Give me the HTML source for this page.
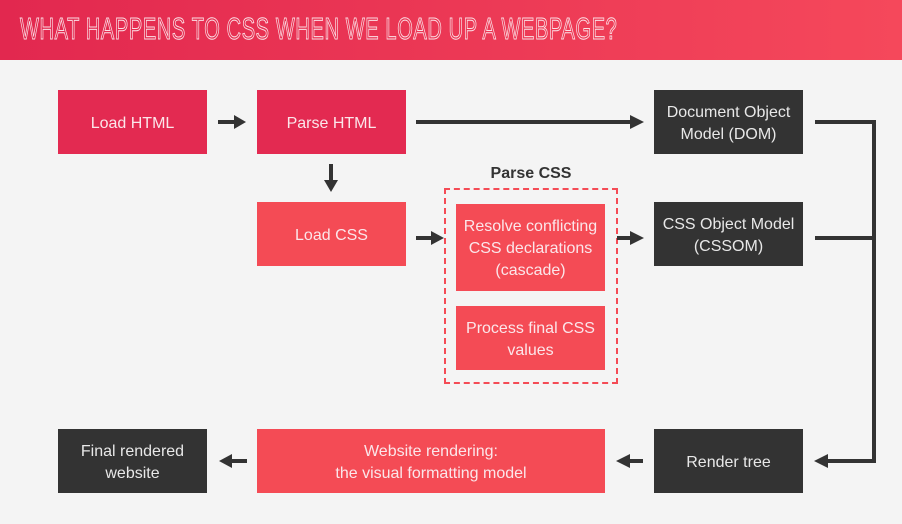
<!DOCTYPE html>
<html><head><meta charset="utf-8"><style>
body{margin:0;width:902px;height:524px;background:#f4f4f4;position:relative;overflow:hidden;font-family:"Liberation Sans",sans-serif}
.hdr{position:absolute;left:0;top:0;width:902px;height:60px;background:linear-gradient(90deg,#e2284f,#f5485b)}
.ttl{position:absolute;left:20px;top:11px;font-family:"Liberation Sans Narrow","Liberation Sans",sans-serif;font-size:31px;letter-spacing:1px;color:transparent;-webkit-text-stroke:1px #fbe0e6;transform:scaleX(0.645);transform-origin:left;white-space:nowrap}
.b{position:absolute;display:flex;align-items:center;justify-content:center;text-align:center;color:#fbe6ea;font-size:16px;line-height:22px;box-sizing:border-box;padding-top:3px}
.c{background:#e32a51}.l{background:#f44b55}.d{background:#333;color:#e8e8e8}
</style></head><body>
<div class="hdr"></div><div class="ttl">WHAT HAPPENS TO CSS WHEN WE LOAD UP A WEBPAGE?</div>
<div class="b c" style="left:58px;top:90px;width:149px;height:64px">Load HTML</div>
<div class="b c" style="left:257px;top:90px;width:149px;height:64px">Parse HTML</div>
<div class="b d" style="left:654px;top:90px;width:149px;height:64px">Document Object<br>Model (DOM)</div>
<div class="b l" style="left:257px;top:202px;width:149px;height:64px">Load CSS</div>
<div style="position:absolute;left:444px;top:188px;width:170px;height:192px;border:2px dashed #f44b55"></div>
<div style="position:absolute;left:444px;top:165px;width:174px;text-align:center;font-weight:bold;font-size:16px;color:#333">Parse CSS</div>
<div class="b l" style="left:456px;top:204px;width:149px;height:87px">Resolve conflicting<br>CSS declarations<br>(cascade)</div>
<div class="b l" style="left:456px;top:306px;width:149px;height:64px">Process final CSS<br>values</div>
<div class="b d" style="left:654px;top:202px;width:149px;height:64px">CSS Object Model<br>(CSSOM)</div>
<div class="b d" style="left:58px;top:429px;width:149px;height:64px">Final rendered<br>website</div>
<div class="b l" style="left:257px;top:429px;width:348px;height:64px">Website rendering:<br>the visual formatting model</div>
<div class="b d" style="left:654px;top:429px;width:149px;height:64px">Render tree</div>
<svg width="902" height="524" style="position:absolute;left:0;top:0" fill="#333" stroke="#333">
<g stroke-width="4" fill="none">
<line x1="218" y1="122" x2="236" y2="122"/><line x1="416" y1="122" x2="632" y2="122"/>
<line x1="331" y1="164" x2="331" y2="182"/><line x1="416" y1="238" x2="433" y2="238"/>
<line x1="617" y1="238" x2="632" y2="238"/>
<polyline points="815,122 874,122 874,461 826,461"/><line x1="815" y1="238" x2="874" y2="238"/>
<line x1="643" y1="461" x2="628" y2="461"/><line x1="247" y1="461" x2="230" y2="461"/>
</g>
<g stroke="none">
<polygon points="234,115 246,122 234,129"/><polygon points="630,115 644,122 630,129"/>
<polygon points="324,180 338,180 331,192"/><polygon points="431,231 444,238 431,245"/>
<polygon points="630,231 644,238 630,245"/><polygon points="828,454 814,461 828,468"/>
<polygon points="630,454 616,461 630,468"/><polygon points="232,454 219,461 232,468"/>
</g></svg>
</body></html>
